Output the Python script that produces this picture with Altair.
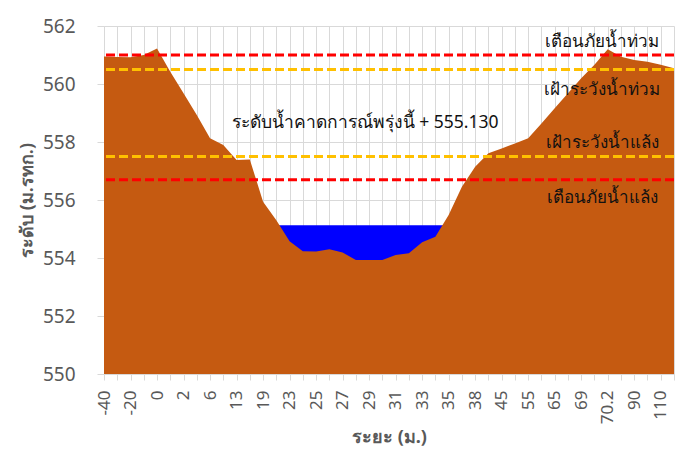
import altair as alt
import pandas as pd

# distance labels for each surveyed point (odd ones are hidden on the axis)
distance = ["-40", "-30", "-20", "-10", "0", "1", "2", "4", "6", "10", "13", "16",
            "19", "21", "23", "24", "25", "26", "27", "28", "29", "30", "31", "32",
            "33", "34", "35", "37", "38", "40", "45", "50", "55", "60", "65", "67",
            "69", "70", "70.2", "80", "90", "100", "110", "120"]
ground = [560.95, 560.93, 560.92, 561.0, 561.22, 560.42, 559.68, 558.93, 558.13,
          557.9, 557.38, 557.4, 555.94, 555.3, 554.58, 554.23, 554.22, 554.3,
          554.19, 553.93, 553.93, 553.93, 554.1, 554.16, 554.54, 554.73, 555.48,
          556.46, 557.15, 557.61, 557.78, 557.95, 558.13, 558.64, 559.16, 559.68,
          560.2, 560.66, 561.2, 560.94, 560.83, 560.77, 560.66, 560.54]
water_level = 555.13
water_from, water_to = 13, 26

levels = [561.0, 560.5, 557.5, 556.7]
level_names = ["เตือนภัยน้ำท่วม", "เฝ้าระวังน้ำท่วม", "เฝ้าระวังน้ำแล้ง", "เตือนภัยน้ำแล้ง"]
level_colors = ["#FF0000", "#FFC000", "#FFC000", "#FF0000"]
label_y = [561.45, 559.8, 557.97, 556.07]
label_x = 37.6

forecast_text = "ระดับน้ำคาดการณ์พรุ่งนี้ + 555.130"

n = len(distance)
df = pd.DataFrame({"i": list(range(n)), "dist": distance, "ground": ground})
wdf = pd.DataFrame({"i": list(range(water_from, water_to + 1)),
                    "w": [water_level] * (water_to - water_from + 1)})
ldf = pd.DataFrame({"y": levels, "name": level_names, "color": level_colors,
                    "ly": label_y, "lx": [label_x] * 4})
tdf = pd.DataFrame({"t": [forecast_text], "x": [19.7], "y": [558.66]})

label_arr = "[" + ",".join("'" + d + "'" for d in distance) + "]"
x_scale = alt.Scale(domain=[0, n - 1], nice=False, zero=False)
y_scale = alt.Scale(domain=[550, 562], nice=False, zero=False)

x_axis = alt.Axis(values=list(range(n)), title="ระยะ (ม.)",
                  labelExpr=f"datum.value % 2 == 0 ? {label_arr}[datum.value] : ''",
                  labelAngle=-90, labelAlign="right", labelBaseline="middle",
                  labelFontSize=17, labelColor="#595959", labelPadding=10,
                  labelOverlap=False, labelFlush=False,
                  tickColor="#D9D9D9", tickSize=6, domainColor="#D9D9D9",
                  gridColor="#D9D9D9", grid=True,
                  titleFontSize=18, titleColor="#595959", titleFontWeight="bold",
                  titlePadding=5)
y_axis = alt.Axis(values=[550, 552, 554, 556, 558, 560, 562], title="ระดับ (ม.รทก.)",
                  labelFontSize=19, labelColor="#595959", labelPadding=22,
                  labelFlush=False,
                  tickColor="#D9D9D9", tickSize=7, domainColor="#D9D9D9",
                  gridColor="#D9D9D9", grid=True,
                  titleFontSize=18, titleColor="#595959", titleFontWeight="bold",
                  titlePadding=6)


def X(field):
    return alt.X(field, type="quantitative", scale=x_scale, axis=x_axis, title="ระยะ (ม.)")


def Y(field):
    return alt.Y(field, type="quantitative", scale=y_scale, axis=y_axis, title="ระดับ (ม.รทก.)")


base_grid = alt.Chart(df).mark_point(opacity=0).encode(x=X("i"), y=Y("ground"))

water = alt.Chart(wdf).mark_area(color="#0000FF", opacity=1).encode(
    x=X("i"), y=Y("w"), y2=alt.datum(550),
)

ground_area = alt.Chart(df).mark_area(color="#C55A11", opacity=1).encode(
    x=X("i"), y=Y("ground"), y2=alt.datum(550),
)

rules = alt.Chart(ldf).mark_rule(strokeDash=[9, 4], strokeWidth=3).encode(
    y=Y("y"),
    color=alt.Color("color:N", scale=None),
)

labels = alt.Chart(ldf).mark_text(fontSize=17, color="#111111", font="Noto Sans").encode(
    x=X("lx"), y=Y("ly"), text="name:N",
)

ftext = alt.Chart(tdf).mark_text(fontSize=17.5, color="#111111", font="Noto Sans").encode(
    x=X("x"), y=Y("y"), text="t:N",
)

chart = alt.layer(base_grid, water, ground_area, rules, labels, ftext).properties(
    width=570, height=348,
    autosize=alt.AutoSizeParams(type="none"),
    padding={"left": 96, "top": 18, "right": 3, "bottom": 75},
).configure_view(stroke=None).configure_axis(labelFont="Noto Sans", titleFont="Noto Sans")

chart.save("out.html", embed_options={"renderer": "svg", "actions": False})
